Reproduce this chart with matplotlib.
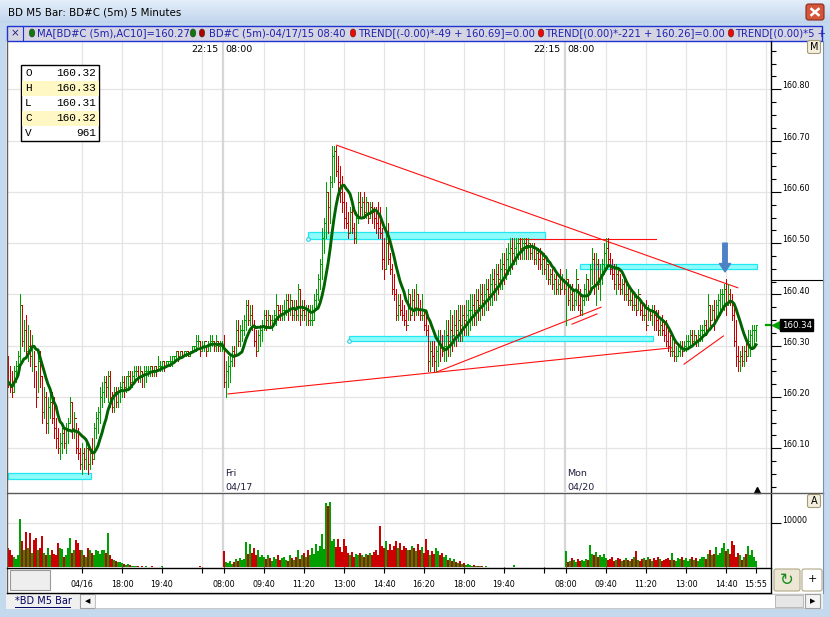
import numpy as np
import pandas as pd
import matplotlib
matplotlib.use("Agg")
import matplotlib.pyplot as plt
from matplotlib.patches import Rectangle, FancyBboxPatch, Ellipse
from matplotlib.collections import LineCollection
from matplotlib.colors import LinearSegmentedColormap
import matplotlib.transforms as mtransforms

# ---------------- data : prices in cents above 160.00, volume in hundreds ----------------
BASE = 160.00
first_open = 26

s1_high = [28,26,25,26,27,29,40,38,35,36, 34,33,32,29,25,29,29,24,22,21,
           20,22,21,20,16,14,13,14,14,15, 16,20,19,17,15,14,10,11,10,11,
           11,10,12,15,17,18,22,23,24,24, 25,25,21,22,22,22,23,24,24,24,
           25,25,25,26,26,26,26,25,26,26, 26,26,26,26,26,28,27,27,27,27,
           27,28,28,28,29,29,29,29,29,29, 29,29,30,30,32,32,31,31,31,30,
           31,32,32,31,32,31,31,31]
s1_low = [22,21,20,21,23,24,27,30,29,28, 27,26,25,22,18,21,22,15,16,13,
          13,16,15,12,10,9,8,9,10,9, 11,15,12,12,9,8,6,5,6,6,
          5,6,7,8,12,13,15,18,19,20, 19,18,17,17,18,18,19,20,20,21,
          22,22,22,23,24,23,23,22,22,23, 24,24,24,24,24,25,25,25,25,26,
          26,26,26,27,27,27,28,28,28,28, 28,28,29,29,29,30,28,29,29,28,
          29,29,30,29,29,29,29,29]
s1_close = [23,22,21,25,26,28,38,31,33,29, 30,28,30,26,20,27,24,17,20,15,
            18,19,16,14,12,10,11,13,11,14, 15,19,14,16,10,9,7,9,8,10,
            7,9,8,14,16,17,20,21,23,22, 24,20,18,21,19,21,22,23,22,24,
            24,23,24,25,25,24,25,24,25,25, 25,26,25,26,25,26,26,27,26,27,
            27,27,28,28,29,28,29,28,29,29, 28,29,30,30,31,31,29,30,31,29,
            30,31,31,30,31,30,30,30]

s2_high = [32,27,28,28,30,30,35,35,34,35, 36,39,39,38,38,35,33,33,34,35,
           37,37,37,36,36,37,40,38,38,38, 39,40,40,40,39,39,39,42,41,39,
           39,38,38,38,38,40,41,44,47,53, 55,62,60,63,69,69,69,67,65,63,
           60,58,56,57,57,54,56,60,60,59, 60,59,58,58,58,57,57,58,57,53,
           51,57,54,48,46,44,41,40,40,39, 38,37,41,40,41,41,42,40,39,40,
           37,36,34,31,31,31,30,33,33,32, 33,35,35,37,36,37,37,38,38,38,
           38,39,39,40,40,40,41,41,42,42, 42,43,43,44,45,45,46,46,47,48,
           48,49,50,51,51,51,51,51,51,51, 51,51,51,50,50,50,49,49,49,48,
           48,47,46,45,45,44,44,43,45,44, 43]
s2_low = [22,20,22,23,26,26,28,30,30,31, 32,33,34,34,33,30,28,29,30,31,
          33,33,34,34,33,34,34,35,35,35, 35,36,35,36,35,35,35,35,34,35,
          35,34,34,34,34,35,37,39,41,43, 48,51,52,54,61,62,63,60,58,56,
          53,53,51,52,52,50,50,54,55,55, 55,55,54,55,54,53,52,51,51,45,
          43,45,46,44,40,39,35,35,36,35, 34,33,35,35,36,35,36,36,35,35,
          33,32,25,25,26,25,25,26,27,28, 27,27,28,28,29,30,30,31,31,31,
          32,32,32,33,34,34,34,35,35,36, 36,37,37,38,38,39,39,40,41,41,
          42,43,44,44,45,46,46,47,47,47, 47,47,47,47,47,46,46,45,45,44,
          44,43,42,42,41,40,40,40,40,41, 40]
s2_close = [23,25,26,27,29,28,33,31,33,33, 35,38,35,36,34,31,29,32,33,34,
            36,35,36,35,35,36,38,37,36,37, 37,39,37,39,36,37,36,41,36,37,
            36,37,35,35,35,39,40,43,46,51, 54,60,57,62,67,68,64,62,60,58,
            55,54,52,56,53,51,55,58,57,58, 56,58,55,57,56,55,54,53,52,47,
            45,50,47,45,41,40,36,38,37,36, 35,34,40,36,39,37,40,37,36,36,
            34,33,27,29,28,27,29,31,30,29, 30,32,31,33,32,34,33,35,34,36,
            35,36,37,37,38,37,39,38,40,39, 40,41,40,42,43,42,44,43,45,46,
            45,47,48,49,48,49,50,50,49,50, 50,49,50,48,49,47,48,47,46,47,
            45,46,43,44,42,43,41,42,41,43, 41]

s3_high = [45,43,42,42,41,45,42,41,40,42, 44,43,46,49,48,48,47,46,47,50,
           51,51,48,47,46,46,45,44,43,43, 42,42,41,41,40,40,41,39,38,38,
           39,38,37,38,38,37,37,35,36,35, 35,33,32,32,31,30,30,31,31,31,
           32,32,33,33,33,32,33,34,34,35, 35,40,38,38,39,39,40,41,41,42,
           43,42,41,40,38,35,30,29,30,30, 31,33,33,34,34,34]
s3_low = [34,38,37,37,37,38,37,36,36,38, 39,39,40,42,40,38,41,39,42,44,
          45,46,44,43,41,40,41,40,40,39, 39,38,38,37,37,36,37,36,35,35,
          33,35,35,34,33,33,32,32,32,31, 30,29,28,28,27,27,28,28,28,29,
          29,30,30,30,31,30,30,31,31,32, 32,33,34,35,33,35,36,36,37,37,
          36,38,38,35,30,26,25,25,26,26, 27,28,28,30,30,31]
s3_close = [43,39,40,38,39,43,38,37,39,41, 43,40,45,47,42,46,42,44,46,48,
            49,47,45,44,42,44,42,41,42,40, 40,39,39,38,38,37,40,37,36,36,
            34,37,36,37,36,35,33,34,33,32, 31,30,29,29,28,28,29,30,29,30,
            31,31,32,31,32,31,32,33,33,34, 33,38,35,37,35,38,39,40,40,41,
            38,40,39,36,31,28,27,28,27,29, 28,31,32,33,33,34]

s1_vol = [44,40,27,22,18,27,111,60,40,80, 44,78,33,62,67,40,44,71,33,27,
          44,27,40,29,27,55,44,42,22,27, 44,67,33,40,62,55,40,38,27,22,
          44,38,33,27,40,36,31,40,38,33, 78,27,18,16,13,11,11,9,7,4,
          6,4,3,2,3,2,1,2,1,2, 1,1,2,1,1,0,1,2,1,0,
          1,0,0,1,0,0,0,0,1,0, 0,0,0,0,0,0,3,0,0,0,
          0,0,0,0,0,0,0,0]
s2_vol = [36,11,9,13,7,11,18,13,20,16, 18,58,31,53,33,44,27,38,22,27,
          22,18,27,20,13,22,18,27,16,20, 22,16,13,27,20,16,22,38,18,27,
          33,22,40,27,44,31,53,36,49,75, 42,146,140,150,60,64,46,64,46,35,
          64,49,33,27,35,22,31,27,33,27, 22,31,27,33,27,35,38,27,94,49,
          44,60,40,53,38,49,60,44,55,40, 49,44,40,38,49,44,36,53,40,46,
          33,64,40,27,36,31,44,36,27,33, 22,27,16,20,13,18,11,9,13,7,
          9,4,7,4,2,4,2,3,2,2, 1,2,1,1,0,1,0,1,0,0,
          0,1,0,0,0,4,0,0,0,0, 0,0,0,0,0,0,0,0,0,0,
          0,0,0,0,0,0,0,0,0,0, 0]
s3_vol = [36,11,13,20,16,11,18,13,16,13, 18,16,51,31,27,35,22,27,24,29,
          20,16,18,22,13,16,20,18,13,16, 20,16,13,18,22,36,16,13,18,20,
          16,22,18,13,20,16,22,18,13,16, 18,20,16,33,16,13,20,18,22,16,
          20,13,18,22,16,20,13,18,22,24, 18,29,38,27,31,46,27,33,44,55,
          36,42,31,60,51,24,33,27,16,24, 31,49,27,38,22,13]

tick_idx = [37, 57, 77, 97, 108, 128, 148, 168, 188, 208, 228, 248, 268,
            279, 299, 319, 339, 359, 374]
tick_lbl = ['04/16', '18:00', '19:40', '', '08:00', '09:40', '11:20', '13:00',
            '14:40', '16:20', '18:00', '19:40', '', '08:00', '09:40', '11:20',
            '13:00', '14:40', '15:55']
grid_idx = [37, 57, 77, 97, 128, 148, 168, 188, 208, 228, 248, 268,
            299, 319, 339, 359, 379]
session_bounds = [107.5, 278.5]
session_days = [('Fri', '04/17'), ('Mon', '04/20')]
price_ticks = [160.10, 160.20, 160.30, 160.40, 160.50, 160.60, 160.70, 160.80]
ma_period = 10
last_price = 160.34
marker_price = 160.428

# drawing tools on the chart: (index0, price0, index1, price1)
trend_lines = [(164.3, 160.691, 364.9, 160.413),
               (255.5, 160.509, 323.8, 160.509),
               (110.0, 160.206, 332.0, 160.296),
               (214.5, 160.249, 296.5, 160.375),
               (282.0, 160.342, 294.5, 160.362),
               (338.0, 160.264, 357.7, 160.319)]
# zones: (index0, index1, price_low, price_high, has_anchor)
zones = [(0.0, 41.5, 160.040, 160.052, False),
         (150.0, 268.5, 160.508, 160.522, True),
         (170.5, 322.5, 160.309, 160.319, True),
         (286.0, 374.5, 160.449, 160.459, False)]
arrow_idx = 358.5
arrow_from, arrow_to = 160.500, 160.444

ohlc_rows = [('O', '160.32'), ('H', '160.33'), ('L', '160.31'), ('C', '160.32'), ('V', '961')]

# ---------------- build series ----------------
highs = BASE + np.array(s1_high + s2_high + s3_high) / 100.0
lows = BASE + np.array(s1_low + s2_low + s3_low) / 100.0
closes = BASE + np.array(s1_close + s2_close + s3_close) / 100.0
vols = np.array(s1_vol + s2_vol + s3_vol) * 100.0
n = len(closes)
idx = np.arange(n)
opens = np.concatenate([[BASE + first_open / 100.0], closes[:-1]])
ma = pd.Series(closes).rolling(ma_period, min_periods=1).mean().values

GREEN = '#00a000'
RED = '#cc0000'
colors = [GREEN if c >= o else RED for o, c in zip(opens, closes)]

W, H = 830, 617
fig = plt.figure(figsize=(W / 100, H / 100), dpi=100)
fig.patch.set_facecolor('#c4d8ee')


def rect(x0, y0, x1, y1):
    return [x0 / W, 1 - y1 / H, (x1 - x0) / W, (y1 - y0) / H]


FONT = 'DejaVu Sans'

# background layer (pixel coordinates, y down)
bg = fig.add_axes([0, 0, 1, 1], zorder=0)
grad = np.linspace(0, 1, 30).reshape(-1, 1)
bg.imshow(grad, extent=[0, W, 23, 0], aspect='auto',
          cmap=LinearSegmentedColormap.from_list('tb', ['#e4eefa', '#c0d5ec']))
bg.set_xlim(0, W)
bg.set_ylim(H, 0)
bg.axis('off')
bg.add_patch(Rectangle((6, 41), 817, 552, fc='white', ec='none'))
bg.add_patch(Rectangle((6, 593), 817, 16, fc='#f0f0f0', ec='none'))

# ---------------- price pane ----------------
ax = fig.add_axes(rect(7, 42, 771, 492), zorder=2)
ax.set_facecolor('none')
XL = (-0.5, 381.5)
YL = (160.0148, 160.8922)
ax.set_xlim(*XL)
ax.set_ylim(*YL)
for s in ax.spines.values():
    s.set_visible(False)
ax.set_xticks([])
ax.yaxis.tick_right()
ax.set_yticks(price_ticks)
ax.set_yticks(np.arange(160.025, 160.89, 0.025), minor=True)
ax.tick_params(axis='y', which='major', length=7, width=0.8, labelright=False, direction='out')
ax.tick_params(axis='y', which='minor', length=3.6, width=0.8, direction='out')

ax.hlines(price_ticks, XL[0], XL[1], color='#e4e4e4', lw=0.9, zorder=0)
ax.vlines(grid_idx, YL[0], YL[1], color='#e4e4e4', lw=0.9, zorder=0)
ax.vlines(session_bounds, YL[0], YL[1], color='#d6d6d6', lw=1.6, zorder=0)

bt = mtransforms.blended_transform_factory(ax.transAxes, ax.transData)
for p in price_ticks:
    ax.annotate(f'{p:.2f}', xy=(1, p), xycoords=bt, xytext=(8.2, 2.4),
                textcoords='offset points', ha='left', va='center',
                fontsize=5.8, family=FONT, annotation_clip=False)

# zones
for x0, x1, p0, p1, anchor in zones:
    ax.add_patch(Rectangle((x0, p0), x1 - x0, p1 - p0, fc='#8ffcfc', ec='#22e6f0', lw=0.9, zorder=2))
    if anchor:
        ax.plot([x0], [p0], marker='o', ms=2.6, mfc='white', mec='#22d0e0', mew=0.8, zorder=3)

# trend lines
for x0, p0, x1, p1 in trend_lines:
    ax.plot([x0, x1], [p0, p1], color='#ff1010', lw=0.8, zorder=4)

# OHLC bars: stems plus short open / close ticks
stems = []
ticks = []
stem_cols = []
tick_cols = []
for i, (o, h, l, c) in enumerate(zip(opens, highs, lows, closes)):
    stems.append([(i, l), (i, h)])
    stem_cols.append(colors[i])
    ticks += [[(i - 0.45, o), (i, o)], [(i, c), (i + 0.45, c)]]
    tick_cols += [colors[i]] * 2
ax.add_collection(LineCollection(stems, colors=stem_cols, linewidths=0.72, antialiased=False, zorder=5))
ax.add_collection(LineCollection(ticks, colors=tick_cols, linewidths=0.72, antialiased=False, zorder=5))

# moving average
ax.plot(idx, ma, color='#006400', lw=2.1, zorder=6, solid_joinstyle='round')

# arrow
ax.annotate('', xy=(arrow_idx, arrow_to), xytext=(arrow_idx, arrow_from),
            arrowprops=dict(facecolor='#4f82c4', edgecolor='#4f82c4', width=3.2,
                            headwidth=8, headlength=6, shrink=0), zorder=7)

# session labels
for b, (dname, dstr) in zip(session_bounds, session_days):
    ax.annotate('22:15', xy=(b, YL[1]), xytext=(-3.5, -5.2), textcoords='offset points',
                ha='right', va='center', fontsize=6.8, family=FONT)
    ax.annotate('08:00', xy=(b, YL[1]), xytext=(2.0, -5.2), textcoords='offset points',
                ha='left', va='center', fontsize=6.8, family=FONT)
    ax.annotate(dname, xy=(b, YL[0]), xytext=(1.5, 13.0), textcoords='offset points',
                ha='left', va='center', fontsize=6.8, family=FONT, color='#202040')
    ax.annotate(dstr, xy=(b, YL[0]), xytext=(1.5, 3.8), textcoords='offset points',
                ha='left', va='center', fontsize=6.8, family=FONT, color='#202040')

# current bar marker
ax.plot([n - 0.5], [YL[0]], marker='^', ms=4, color='black', clip_on=False, zorder=8,
        transform=ax.transData + mtransforms.ScaledTranslation(0, 2.5 / 100, fig.dpi_scale_trans))

# last price label
ax.plot([0.993, 1.0], [last_price, last_price], transform=bt, color=GREEN, lw=1.6, clip_on=False)
ax.plot([1.007], [last_price], transform=bt, marker='<', ms=6, color=GREEN, clip_on=False)
ax.annotate(f'{last_price:.2f}', xy=(1, last_price), xycoords=bt, xytext=(7.6, 0),
            textcoords='offset points', ha='left', va='center', fontsize=6.2, family=FONT,
            color='white', annotation_clip=False,
            bbox=dict(boxstyle='square,pad=0.18', fc='black', ec='black'))
ax.plot([1.0, 1.068], [marker_price, marker_price], transform=bt, color='black', lw=0.8, clip_on=False)

# ---------------- volume pane ----------------
axv = fig.add_axes(rect(7, 493, 771, 567), zorder=2)
axv.set_facecolor('none')
axv.set_xlim(*XL)
VL = (0, 17000)
axv.set_ylim(*VL)
for s in axv.spines.values():
    s.set_visible(False)
axv.bar(idx, vols, width=0.85, color=colors, linewidth=0, zorder=3)
axv.hlines([10000], XL[0], XL[1], color='#e4e4e4', lw=0.9, zorder=0)
axv.vlines(grid_idx, VL[0], VL[1], color='#e4e4e4', lw=0.9, zorder=0)
axv.vlines(session_bounds, VL[0], VL[1], color='#d6d6d6', lw=1.6, zorder=0)
axv.yaxis.tick_right()
axv.set_yticks([10000])
axv.tick_params(axis='y', length=7, width=0.8, labelright=False)
bvt = mtransforms.blended_transform_factory(axv.transAxes, axv.transData)
axv.annotate('10000', xy=(1, 10000), xycoords=bvt, xytext=(8.2, 1.8),
             textcoords='offset points', ha='left', va='center', fontsize=5.8,
             family=FONT, annotation_clip=False)
axv.set_xticks(tick_idx)
axv.set_xticklabels(tick_lbl, fontsize=5.8, family=FONT)
axv.tick_params(axis='x', length=4.3, width=0.8, pad=5.0, direction='out')

# ---------------- foreground chrome ----------------
fg = fig.add_axes([0, 0, 1, 1], zorder=5)
fg.set_xlim(0, W)
fg.set_ylim(H, 0)
fg.axis('off')
fg.patch.set_alpha(0)

fg.text(8, 12.5, 'BD M5 Bar: BD#C (5m) 5 Minutes', fontsize=7.4, family=FONT, va='center')
fg.add_patch(FancyBboxPatch((806, 4), 18, 16, boxstyle='round,pad=0,rounding_size=2.5',
                            fc='#d4563a', ec='#8a2c1c', lw=0.8))
fg.plot([811.5, 818.5], [9, 15], color='white', lw=1.8)
fg.plot([811.5, 818.5], [15, 9], color='white', lw=1.8)

# legend strip
fg.add_patch(Rectangle((7, 25.5), 815, 15.5, fc='#d4d4e2', ec='#1f33d0', lw=1.0))
fg.plot([22.5, 22.5], [26, 40.5], color='#1f33d0', lw=0.8)
fg.text(15, 33.5, '×', fontsize=7.5, family=FONT, ha='center', va='center', color='#202080')
LC = '#1e22b0'
legend_items = [(32, ['#0a7a0a'], 37, 'MA[BD#C (5m),AC10]=160.27'),
                (193, ['#0a7a0a', '#b00000'], 209, 'BD#C (5m)-04/17/15 08:40'),
                (353, ['#ff0000'], 358, 'TREND[(-0.00)*-49 + 160.69]=0.00'),
                (541, ['#ff0000'], 545, 'TREND[(0.00)*-221 + 160.26]=0.00'),
                (731, ['#ff0000'], 735, 'TREND[(0.00)*5 +')]
for dx, dcols, tx, txt in legend_items:
    for k, dc in enumerate(dcols):
        fg.add_patch(Ellipse((dx + 9 * k, 33), 5.5, 8, fc=dc, ec='#303030', lw=0.4))
    fg.text(tx, 33.5, txt, fontsize=7.2, family=FONT, va='center', color=LC)

# separators / axis lines
fg.plot([6.5, 6.5], [41, 593], color='#606060', lw=1.0)
fg.plot([771, 771], [41, 592], color='black', lw=1.0)
fg.plot([7, 823], [493, 493], color='#5a5a5a', lw=1.0)
fg.plot([7, 771], [567.5, 567.5], color='black', lw=1.0)
fg.plot([7, 771], [592.5, 592.5], color='black', lw=1.0)
fg.plot([823, 823], [41, 593], color='#8090a8', lw=0.8)

# M / A buttons
for lbl, y0 in (('M', 40.5), ('A', 494.5)):
    fg.add_patch(FancyBboxPatch((807.5, y0), 13, 13, boxstyle='round,pad=0,rounding_size=2',
                                fc='#f3efdc', ec='#a49c78', lw=0.8))
    fg.text(814, y0 + 6.8, lbl, fontsize=7, family=FONT, ha='center', va='center')

# OHLC box
fg.add_patch(Rectangle((21, 65), 78, 75.5, fc='white', ec='black', lw=1.0, zorder=1))
for k, (lab, val) in enumerate(ohlc_rows):
    y0 = 65.5 + 15 * k
    if k in (1, 3):
        fg.add_patch(Rectangle((22, y0), 76.5, 15, fc='#fff8c4', ec='none', zorder=1.5))
    fg.text(25, y0 + 7.8, lab, fontsize=8, family='Liberation Mono', va='center', zorder=2)
    fg.text(96, y0 + 7.8, val, fontsize=8, family='Liberation Mono', va='center', ha='right', zorder=2)

# bottom left box, refresh and plus buttons
fg.add_patch(Rectangle((10, 570), 40, 20, fc='#eeeeee', ec='#9a9a9a', lw=0.8))
fg.add_patch(FancyBboxPatch((774, 569), 26, 22, boxstyle='round,pad=0,rounding_size=2',
                            fc='#ece7d4', ec='#b0a888', lw=0.8))
fg.text(787, 580.5, '↻', fontsize=12, family=FONT, ha='center', va='center', color='#1a8a1a')
fg.add_patch(FancyBboxPatch((802, 569), 20, 22, boxstyle='round,pad=0,rounding_size=2',
                            fc='white', ec='#b0a888', lw=0.8))
fg.text(812, 579.5, '+', fontsize=8, family=FONT, ha='center', va='center')

# tab bar
fg.text(15, 601, '*BD M5 Bar', fontsize=7, family=FONT, va='center', color='#000060')
fg.plot([15, 70], [606.5, 606.5], color='#000060', lw=0.7)
fg.add_patch(Rectangle((80, 594), 15, 13.5, fc='#f4f4f4', ec='#a0a0a0', lw=0.8))
fg.text(87.5, 601, '◀', fontsize=5, family=FONT, ha='center', va='center')
fg.add_patch(Rectangle((95, 594), 710, 13.5, fc='white', ec='#c0c0c0', lw=0.6))
fg.add_patch(Rectangle((775, 594.5), 28, 12.5, fc='#e6e6e6', ec='#b0b0b0', lw=0.6))
fg.add_patch(Rectangle((805, 594), 15, 13.5, fc='#f4f4f4', ec='#a0a0a0', lw=0.8))
fg.text(812.5, 601, '▶', fontsize=5, family=FONT, ha='center', va='center')

fig.savefig('out.png', dpi=100, facecolor=fig.get_facecolor())
